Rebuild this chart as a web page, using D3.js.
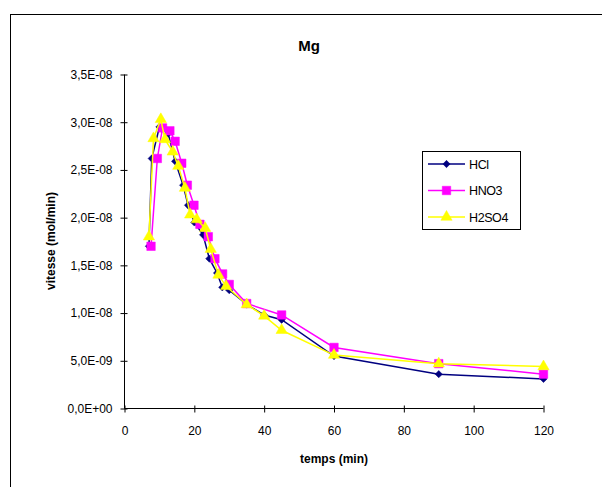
<!DOCTYPE html>
<html>
<head>
<meta charset="utf-8">
<script src="https://cdn.jsdelivr.net/npm/d3@7"></script>
<style>
  body { margin: 0; background: #fff; }
  svg { display: block; font-family: "Liberation Sans", Arial, sans-serif; }
</style>
</head>
<body>
<svg id="chart" width="602" height="487"></svg>
<script>
// ---- Data (vitesse in mol/min, temps in min) ----
const seriesNames = ["HCl", "HNO3", "H2SO4"];
const seriesColors = ["#000080", "#FF00FF", "#FFFF00"];
const seriesSymbols = ["diamond", "square", "triangle"];

const hclTime = [7, 7.8, 10, 12.5, 14.5, 16.8, 18.2, 20, 22.5, 24.3, 26.5, 28, 30, 35, 40, 45, 60, 90, 120];
const hclRate = [1.70e-8, 2.62e-8, 2.95e-8, 2.88e-8, 2.59e-8, 2.34e-8, 2.13e-8, 1.95e-8, 1.82e-8, 1.57e-8, 1.42e-8, 1.27e-8, 1.24e-8, 1.09e-8, 0.98e-8, 0.93e-8, 0.55e-8, 0.36e-8, 0.31e-8];

const hno3Time = [7.6, 9.4, 10.9, 13, 14.5, 16.4, 18, 19.9, 21.6, 24, 25.9, 28.1, 30, 35, 45, 60, 90, 120];
const hno3Rate = [1.70e-8, 2.62e-8, 2.94e-8, 2.91e-8, 2.80e-8, 2.57e-8, 2.34e-8, 2.13e-8, 1.93e-8, 1.80e-8, 1.57e-8, 1.41e-8, 1.30e-8, 1.10e-8, 0.98e-8, 0.64e-8, 0.47e-8, 0.36e-8];

const h2so4Time = [7, 8.3, 10.4, 11.6, 13.8, 15.4, 17.3, 18.8, 20.7, 23.1, 24.7, 26.9, 29.1, 35, 40, 45, 60, 90, 120];
const h2so4Rate = [1.80e-8, 2.83e-8, 3.03e-8, 2.82e-8, 2.69e-8, 2.54e-8, 2.31e-8, 2.03e-8, 1.98e-8, 1.89e-8, 1.67e-8, 1.40e-8, 1.28e-8, 1.09e-8, 0.97e-8, 0.82e-8, 0.56e-8, 0.47e-8, 0.44e-8];

const xTicks = [0, 20, 40, 60, 80, 100, 120];
const yTicks = [0, 0.5e-8, 1.0e-8, 1.5e-8, 2.0e-8, 2.5e-8, 3.0e-8, 3.5e-8];
const yTickLabels = ["0,0E+00", "5,0E-09", "1,0E-08", "1,5E-08", "2,0E-08", "2,5E-08", "3,0E-08", "3,5E-08"];

const titleText = "Mg";
const xTitle = "temps (min)";
const yTitle = "vitesse (mol/min)";

// ---- Layout ----
const svg = d3.select("#chart");
const plot = { left: 124.5, right: 543.5, top: 74.5, bottom: 408.5 };

const x = d3.scaleLinear().domain([0, 120]).range([plot.left, plot.right]);
const y = d3.scaleLinear().domain([0, 3.5e-8]).range([plot.bottom, plot.top]);

// outer chart border
svg.append("rect")
  .attr("x", 10.5).attr("y", 14.5)
  .attr("width", 620).attr("height", 500)
  .attr("fill", "none").attr("stroke", "#000").attr("stroke-width", 1);

// title
svg.append("text")
  .attr("x", 309).attr("y", 51)
  .attr("text-anchor", "middle")
  .attr("font-size", 15).attr("font-weight", "bold")
  .text(titleText);

// axes
const xAxis = d3.axisBottom(x).tickValues(xTicks).tickSize(0).tickPadding(0).tickFormat(d3.format("d"));
const gx = svg.append("g").attr("transform", `translate(0,${plot.bottom})`).call(xAxis);
gx.select(".domain").attr("stroke", "#000").attr("d", `M${plot.left},0H${plot.right}`);
gx.selectAll(".tick line").attr("y1", -3).attr("y2", 4).attr("stroke", "#000");
gx.selectAll(".tick text").attr("y", 18).attr("font-size", 12).attr("fill", "#000")
  .attr("font-family", "Liberation Sans, Arial, sans-serif");

const yAxis = d3.axisLeft(y).tickValues(yTicks).tickSize(0).tickPadding(0)
  .tickFormat((d, i) => yTickLabels[i]);
const gy = svg.append("g").attr("transform", `translate(${plot.left},0)`).call(yAxis);
gy.select(".domain").attr("stroke", "#000").attr("d", `M0,${plot.top}V${plot.bottom}`);
gy.selectAll(".tick line").attr("x1", -4).attr("x2", 3).attr("stroke", "#000");
gy.selectAll(".tick text").attr("x", -12).attr("font-size", 12).attr("fill", "#000")
  .attr("font-family", "Liberation Sans, Arial, sans-serif");

// axis titles
svg.append("text")
  .attr("x", 334).attr("y", 463)
  .attr("text-anchor", "middle")
  .attr("font-size", 12).attr("font-weight", "bold")
  .text(xTitle);

svg.append("text")
  .attr("transform", `translate(55,241) rotate(-90)`)
  .attr("text-anchor", "middle")
  .attr("font-size", 12).attr("font-weight", "bold")
  .text(yTitle);

// series
const series = [
  { name: seriesNames[0], t: hclTime, v: hclRate, color: seriesColors[0], sym: seriesSymbols[0] },
  { name: seriesNames[1], t: hno3Time, v: hno3Rate, color: seriesColors[1], sym: seriesSymbols[1] },
  { name: seriesNames[2], t: h2so4Time, v: h2so4Rate, color: seriesColors[2], sym: seriesSymbols[2] }
];

const symbolMap = {
  diamond: d3.symbol().type(d3.symbolDiamond2).size(34),
  square: d3.symbol().type(d3.symbolSquare).size(72),
  triangle: d3.symbol().type(d3.symbolTriangle).size(55)
};

const line = d3.line().x(d => x(d[0])).y(d => y(d[1]));

series.forEach(s => {
  const pts = s.t.map((t, i) => [t, s.v[i]]);
  svg.append("path")
    .attr("d", line(pts))
    .attr("fill", "none")
    .attr("stroke", s.color)
    .attr("stroke-width", 1.5);
  svg.append("g").selectAll("path")
    .data(pts).join("path")
    .attr("transform", d => `translate(${x(d[0])},${y(d[1])})`)
    .attr("d", symbolMap[s.sym]())
    .attr("fill", s.color)
    .attr("stroke", s.color)
    .attr("stroke-width", 0.5);
});

// legend
const legend = svg.append("g");
legend.append("rect")
  .attr("x", 422.5).attr("y", 151.5)
  .attr("width", 98).attr("height", 78)
  .attr("fill", "#fff").attr("stroke", "#000").attr("stroke-width", 1);

const legendY = [164, 190.5, 217];
series.forEach((s, i) => {
  const ly = legendY[i];
  legend.append("line")
    .attr("x1", 428).attr("x2", 465)
    .attr("y1", ly).attr("y2", ly)
    .attr("stroke", s.color).attr("stroke-width", 1.5);
  legend.append("path")
    .attr("transform", `translate(446.5,${ly})`)
    .attr("d", symbolMap[s.sym]())
    .attr("fill", s.color).attr("stroke", s.color).attr("stroke-width", 0.5);
  legend.append("text")
    .attr("x", 469).attr("y", ly + 4.5)
    .attr("font-size", 12.5)
    .attr("letter-spacing", -0.4)
    .text(s.name);
});
</script>
</body>
</html>
